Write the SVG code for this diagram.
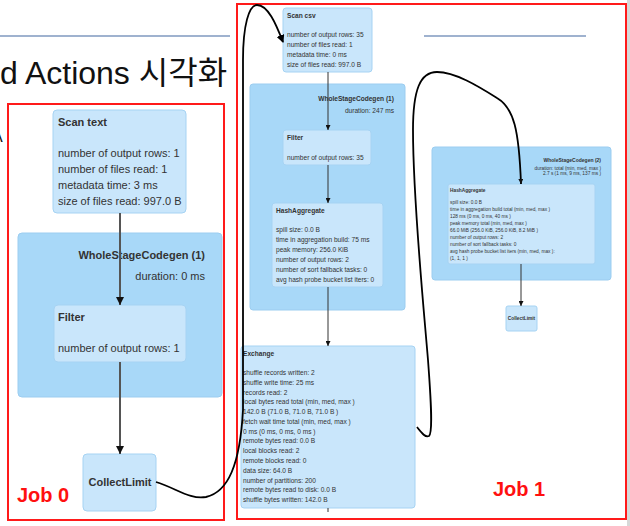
<svg xmlns="http://www.w3.org/2000/svg" width="630" height="526" viewBox="0 0 630 526">
<defs>
<style>
.t{font-family:"Liberation Sans",Arial,sans-serif;fill:#333}
.b{font-weight:bold}
.node{fill:#c9e6fb;stroke:#a6d3f3;stroke-width:1}
.clu{fill:#a8d8f8;stroke:#9ccdf0;stroke-width:1}
.job{fill:none;stroke:#ff1a1a;stroke-width:2}
.jl{font-family:"Liberation Sans",Arial,sans-serif;font-weight:bold;font-size:20px;fill:#ff1010}
.e1{fill:none;stroke:#555;stroke-width:2}
.e2{fill:none;stroke:#333;stroke-width:1}
.cv{fill:none;stroke:#000;stroke-width:1.8}
</style>
<marker id="a1" markerUnits="userSpaceOnUse" markerWidth="8" markerHeight="8" refX="8" refY="4" orient="auto"><path d="M0,0L8,4L0,8z" fill="#111"/></marker>
<marker id="a2" markerUnits="userSpaceOnUse" markerWidth="5" markerHeight="5" refX="5" refY="2.5" orient="auto"><path d="M0,0L5,2.5L0,5z" fill="#111"/></marker>
<marker id="a3" markerUnits="userSpaceOnUse" markerWidth="8" markerHeight="8" refX="7" refY="4" orient="auto"><path d="M0,0L8,4L0,8z" fill="#000"/></marker>
</defs>
<rect width="630" height="526" fill="#fff"/>
<rect x="627" y="0" width="3" height="526" fill="#d8d8d8"/>
<g id="title">
<line x1="0" y1="36" x2="230" y2="36" stroke="#7f99bf" stroke-width="1.5"/>
<line x1="424" y1="36" x2="586" y2="36" stroke="#7f99bf" stroke-width="1.5"/>
<text x="0" y="84" font-family="'Liberation Sans','Noto Sans CJK KR',sans-serif" font-size="32" fill="#111">d Actions 시각화</text>
<text x="-8" y="142" font-family="'Liberation Sans',sans-serif" font-size="16" fill="#111">A</text>
</g>
<g id="job0">
<rect class="job" x="8" y="104" width="216" height="416"/>
<text class="jl" x="17" y="502">Job 0</text>
</g>
<g id="job1">
<rect class="job" x="237" y="4" width="389" height="515"/>
<text class="jl" x="493" y="496">Job 1</text>
</g>
<g id="j0-wscg1">
<rect class="clu" x="18" y="233" width="204" height="164" rx="4"/>
<text class="t b" x="205" y="259" font-size="11" text-anchor="end">WholeStageCodegen (1)</text>
<text class="t" x="205" y="280" font-size="11" text-anchor="end">duration: 0 ms</text>
</g>
<g id="j0-scan">
<rect class="node" x="53" y="110" width="133" height="103" rx="4"/>
<text class="t b" x="58" y="126" font-size="11">Scan text</text>
<text class="t" x="58" y="157" font-size="11">number of output rows: 1</text>
<text class="t" x="58" y="173" font-size="11">number of files read: 1</text>
<text class="t" x="58" y="189" font-size="11">metadata time: 3 ms</text>
<text class="t" x="58" y="205" font-size="11">size of files read: 997.0 B</text>
</g>
<g id="j0-filter">
<rect class="node" x="54" y="305" width="132" height="57" rx="4"/>
<text class="t b" x="58" y="321" font-size="11">Filter</text>
<text class="t" x="58" y="352" font-size="11">number of output rows: 1</text>
</g>
<g id="j0-collect">
<rect class="node" x="83" y="454" width="73" height="57" rx="4"/>
<text class="t b" x="120" y="486" font-size="11" text-anchor="middle">CollectLimit</text>
</g>
<g id="j1-wscg1">
<rect class="clu" x="250" y="84" width="155" height="226" rx="3"/>
<text class="t b" x="394" y="101" font-size="6.6" text-anchor="end">WholeStageCodegen (1)</text>
<text class="t" x="394" y="113" font-size="6.6" text-anchor="end">duration: 247 ms</text>
</g>
<g id="j1-scan">
<rect class="node" x="283" y="8" width="89" height="64" rx="3"/>
<text class="t b" x="287" y="18" font-size="6.6">Scan csv</text>
<text class="t" x="287" y="37" font-size="6.6">number of output rows: 35</text>
<text class="t" x="287" y="47" font-size="6.6">number of files read: 1</text>
<text class="t" x="287" y="57" font-size="6.6">metadata time: 0 ms</text>
<text class="t" x="287" y="67" font-size="6.6">size of files read: 997.0 B</text>
</g>
<g id="j1-filter">
<rect class="node" x="283" y="130" width="88" height="35" rx="3"/>
<text class="t b" x="287" y="140" font-size="6.6">Filter</text>
<text class="t" x="287" y="160" font-size="6.6">number of output rows: 35</text>
</g>
<g id="j1-hash">
<rect class="node" x="272" y="203" width="111" height="84" rx="3"/>
<text class="t b" x="276" y="213" font-size="6.6">HashAggregate</text>
<text class="t" x="276" y="232" font-size="6.6">spill size: 0.0 B</text>
<text class="t" x="276" y="242" font-size="6.6">time in aggregation build: 75 ms</text>
<text class="t" x="276" y="252" font-size="6.6">peak memory: 256.0 KiB</text>
<text class="t" x="276" y="262" font-size="6.6">number of output rows: 2</text>
<text class="t" x="276" y="272" font-size="6.6">number of sort fallback tasks: 0</text>
<text class="t" x="276" y="282" font-size="6.6">avg hash probe bucket list iters: 0</text>
</g>
<g id="j1-exchange">
<rect class="node" x="241" y="346" width="174" height="162" rx="3"/>
<text class="t b" x="243" y="356" font-size="6.6">Exchange</text>
<text class="t" x="243" y="375" font-size="6.6">shuffle records written: 2</text>
<text class="t" x="243" y="385" font-size="6.6">shuffle write time: 25 ms</text>
<text class="t" x="243" y="394.5" font-size="6.6">records read: 2</text>
<text class="t" x="243" y="404.3" font-size="6.6">local bytes read total (min, med, max )</text>
<text class="t" x="243" y="414" font-size="6.6">142.0 B (71.0 B, 71.0 B, 71.0 B )</text>
<text class="t" x="243" y="423.8" font-size="6.6">fetch wait time total (min, med, max )</text>
<text class="t" x="243" y="433.6" font-size="6.6">0 ms (0 ms, 0 ms, 0 ms )</text>
<text class="t" x="243" y="443.4" font-size="6.6">remote bytes read: 0.0 B</text>
<text class="t" x="243" y="453.2" font-size="6.6">local blocks read: 2</text>
<text class="t" x="243" y="463" font-size="6.6">remote blocks read: 0</text>
<text class="t" x="243" y="472.7" font-size="6.6">data size: 64.0 B</text>
<text class="t" x="243" y="482.5" font-size="6.6">number of partitions: 200</text>
<text class="t" x="243" y="492.3" font-size="6.6">remote bytes read to disk: 0.0 B</text>
<text class="t" x="243" y="502" font-size="6.6">shuffle bytes written: 142.0 B</text>
</g>
<g id="j1-wscg2">
<rect class="clu" x="432" y="147" width="179" height="133" rx="3"/>
<text class="t b" x="601" y="162" font-size="5" text-anchor="end">WholeStageCodegen (2)</text>
<text class="t" x="601" y="169.5" font-size="4.8" text-anchor="end">duration: total (min, med, max )</text>
<text class="t" x="601" y="174.5" font-size="4.8" text-anchor="end">2.7 s (1 ms, 9 ms, 137 ms )</text>
</g>
<g id="j1-hash2">
<rect class="node" x="448" y="184" width="147" height="80" rx="2"/>
<text class="t b" x="450" y="192" font-size="4.8">HashAggregate</text>
<text class="t" x="450" y="204" font-size="4.8">spill size: 0.0 B</text>
<text class="t" x="450" y="211" font-size="4.8">time in aggregation build total (min, med, max )</text>
<text class="t" x="450" y="218" font-size="4.8">128 ms (0 ms, 0 ms, 40 ms )</text>
<text class="t" x="450" y="225" font-size="4.8">peak memory total (min, med, max )</text>
<text class="t" x="450" y="232" font-size="4.8">66.0 MiB (256.0 KiB, 256.0 KiB, 8.2 MiB )</text>
<text class="t" x="450" y="239" font-size="4.8">number of output rows: 2</text>
<text class="t" x="450" y="246" font-size="4.8">number of sort fallback tasks: 0</text>
<text class="t" x="450" y="253" font-size="4.8">avg hash probe bucket list iters (min, med, max ):</text>
<text class="t" x="450" y="260" font-size="4.8">(1, 1, 1 )</text>
</g>
<g id="j1-collect2">
<rect class="node" x="506" y="306" width="31" height="25" rx="2"/>
<text class="t b" x="521.5" y="320" font-size="4.8" text-anchor="middle">CollectLimit</text>
</g>
<g id="connectors">
<line class="e1" x1="120" y1="213" x2="120" y2="305" marker-end="url(#a1)"/>
<line class="e1" x1="120" y1="362" x2="120" y2="454" marker-end="url(#a1)"/>
<line class="e2" x1="328" y1="72" x2="328" y2="130" marker-end="url(#a2)"/>
<line class="e2" x1="328" y1="165" x2="328" y2="203" marker-end="url(#a2)"/>
<line class="e2" x1="328" y1="287" x2="328" y2="346" marker-end="url(#a2)"/>
<line class="e2" x1="328" y1="508" x2="328" y2="512"/>
<line class="e2" x1="521" y1="264" x2="521" y2="306" marker-end="url(#a2)"/>
<path class="cv" d="M156,482 C176,488 190,500 206,497 C228,492 240,465 243,410 L243,60 C243,25 249,5 257,5 C268,5 276,24 283,42" marker-end="url(#a3)"/>
<path class="cv" d="M417,427 C421,432 425,438 429,436 C433,433 431,400 428,360 C423,300 413,200 413,130 C413,90 420,72 437,72 C455,72 478,86 497,98 C514,108 519,130 521,184" marker-end="url(#a2)"/>
</g>
</svg>
